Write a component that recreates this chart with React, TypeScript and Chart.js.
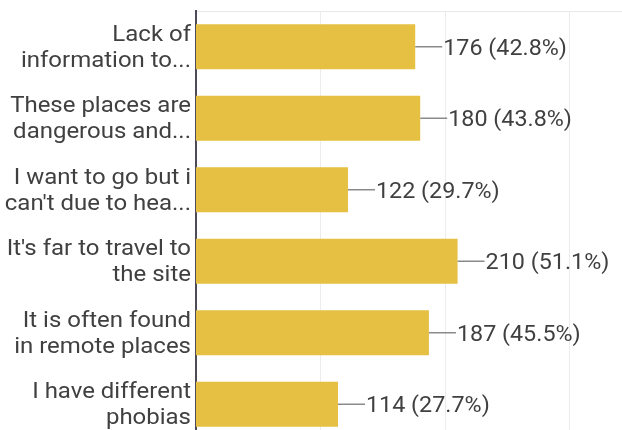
import React, { useEffect, useRef } from "react";
import { Chart, registerables } from "chart.js";

Chart.register(...registerables);

const categories: string[][] = [
  ["Lack of", "information to..."],
  ["These places are", "dangerous and..."],
  ["I want to go but i", "can't due to hea..."],
  ["It's far to travel to", "the site"],
  ["It is often found", "in remote places"],
  ["I have different", "phobias"],
];
const counts: number[] = [176, 180, 122, 210, 187, 114];
const percents: string[] = ["42.8%", "43.8%", "29.7%", "51.1%", "45.5%", "27.7%"];
const gridTicks: number[] = [100, 200, 300];

const BAR_COLOR = "#E5C042";
const TEXT_COLOR = "#404040";
const FONT = "Roboto, 'Noto Sans', sans-serif";

const drawStretched = (ctx: any, text: string, x: number, y: number, sx: number, align: string) => {
  ctx.save();
  ctx.translate(x, y);
  ctx.scale(sx, 1);
  ctx.textAlign = align;
  ctx.textBaseline = "alphabetic";
  ctx.fillText(text, 0, 0);
  ctx.restore();
};

const textPlugin = {
  id: "textPlugin",
  afterDatasetsDraw(chart: any) {
    const ctx = chart.ctx;
    const meta = chart.getDatasetMeta(0);
    const yScale = chart.scales.y;
    ctx.save();
    // category labels
    ctx.fillStyle = TEXT_COLOR;
    ctx.font = `22px ${FONT}`;
    categories.forEach((lines, i) => {
      const cy = yScale.getPixelForValue(i);
      const right = yScale.right - 5;
      drawStretched(ctx, lines[0], right, cy - 6, 1.09, "right");
      drawStretched(ctx, lines[1], right, cy + 20, 1.09, "right");
    });
    // value labels with leader lines
    meta.data.forEach((bar: any, i: number) => {
      const x = bar.x;
      const y = bar.y;
      ctx.strokeStyle = "#8a8a8a";
      ctx.lineWidth = 1.5;
      ctx.beginPath();
      ctx.moveTo(x, y);
      ctx.lineTo(x + 27, y);
      ctx.stroke();
      ctx.fillStyle = TEXT_COLOR;
      ctx.font = `22px ${FONT}`;
      drawStretched(ctx, `${counts[i]} (${percents[i]})`, x + 28, y + 8, 1.06, "left");
    });
    ctx.restore();
  },
};

export default function App() {
  const ref = useRef<HTMLCanvasElement | null>(null);
  useEffect(() => {
    if (!ref.current) return;
    const chart = new Chart(ref.current, {
      type: "bar",
      data: {
        labels: categories,
        datasets: [
          {
            data: counts,
            backgroundColor: BAR_COLOR,
            barPercentage: 0.63,
            categoryPercentage: 1,
          },
        ],
      },
      options: {
        indexAxis: "y",
        animation: false,
        responsive: false,
        devicePixelRatio: 1,
        layout: { padding: { top: 11, right: 0, bottom: 0, left: 0 } },
        plugins: { legend: { display: false }, tooltip: { enabled: false } },
        scales: {
          x: {
            position: "top",
            min: 0,
            max: 342,
            afterBuildTicks: (s: any) => {
              s.ticks = gridTicks.map((v) => ({ value: v }));
            },
            ticks: { display: false },
            grid: { color: "#ececec", drawTicks: false, lineWidth: 1 },
            border: { display: true, color: "#e8e8e8", width: 1 },
          },
          y: {
            afterFit: (s: any) => {
              s.width = 196;
              s.paddingTop = 0;
              s.paddingBottom = 0;
            },
            ticks: { display: false },
            grid: { display: false, drawTicks: false },
            border: { display: true, color: "#4f4a5a", width: 2 },
          },
        },
      },
      plugins: [textPlugin],
    });
    return () => chart.destroy();
  }, []);
  return (
    <div style={{ position: "fixed", left: 0, top: 0, width: 622, height: 430, overflow: "hidden", background: "#fff" }}>
      <canvas ref={ref} width={622} height={440} />
    </div>
  );
}
